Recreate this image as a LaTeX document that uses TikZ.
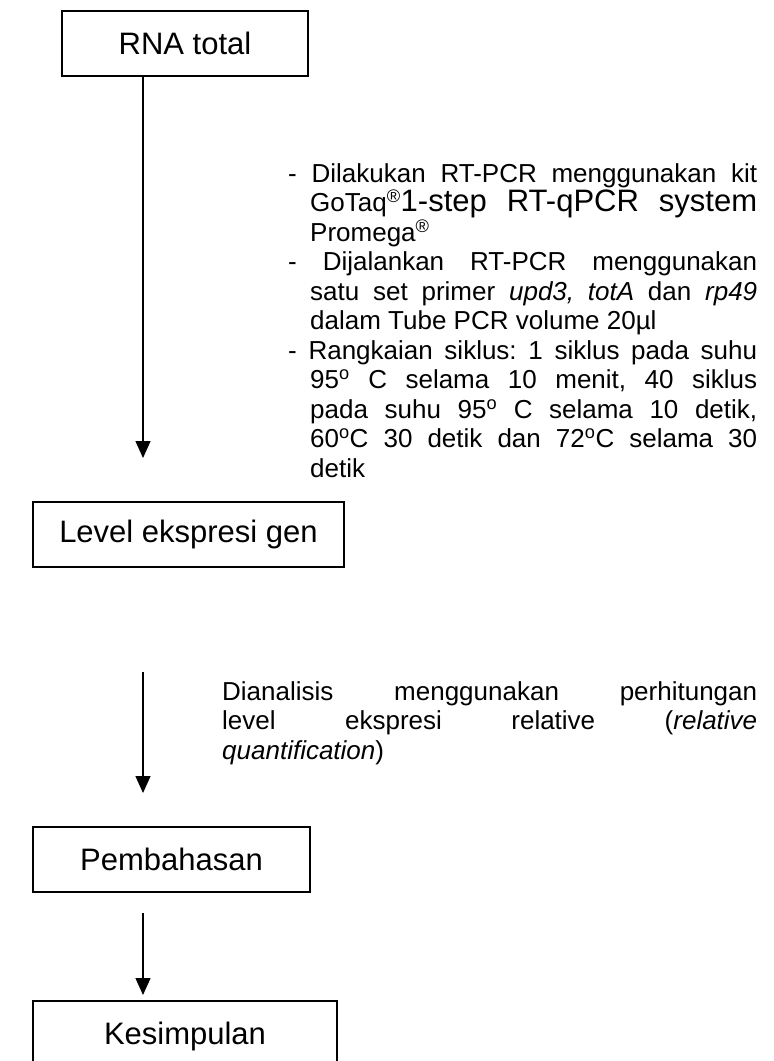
\documentclass[tikz,border=0pt]{standalone}
\usepackage{fontspec}
\setmainfont{Liberation Sans}
\usetikzlibrary{arrows.meta,positioning}
\tikzset{
	kotak/.style={draw,line width=1.6pt,inner sep=0pt,minimum height=65pt,font=\fontsize{31}{36}\selectfont},
	panah/.style={line width=1.3pt,-{Triangle[width=15pt,length=17pt]}},
	keterangan/.style={anchor=north west,inner sep=0pt,align=justify,font=\fontsize{26}{29.5}\selectfont}
}

\begin{document}
\frenchspacing
\begin{tikzpicture}[x=1pt,y=-1pt]
			\useasboundingbox (0,0) rectangle (774,1061);
			\node[kotak,minimum width=246pt] (rna) at (185,43.5) {RNA total};
			\node[kotak,minimum width=311pt] (level) at (188.5,534.5) {Level ekspresi gen};
			\node[kotak,minimum width=277pt] (bahas) at (171.5,859.5) {Pembahasan};
			\node[kotak,minimum width=304pt,minimum height=70pt] (simpul) at (185,1036) {Kesimpulan};
			\coordinate (ujung1) at (143,458);
			\coordinate (awal2) at (143,672);
			\coordinate (ujung2) at (143,793);
			\coordinate (awal3) at (143,913);
			\coordinate (ujung3) at (143,995);
			\draw[panah] (rna.south -| ujung1) -- (ujung1);
			\draw[panah] (awal2) -- (ujung2);
			\draw[panah] (awal3) -- (ujung3);
			\node[keterangan,text width=469pt] (rtpcr) at (288,163) {\parindent=0pt
				\hangindent=22pt\hangafter=1
				-\ Dilakukan RT-PCR menggunakan kit\linebreak
				GoTaq\textsuperscript{\textregistered}{\fontsize{31}{34}\selectfont 1-step RT-qPCR system}\linebreak
				Promega\textsuperscript{\textregistered}\par
				\hangindent=22pt\hangafter=1
				-\ Dijalankan RT-PCR menggunakan\linebreak
				satu set primer \textit{upd3, totA} dan \textit{rp49}\linebreak
				dalam Tube PCR volume 20µl\par
				\hangindent=22pt\hangafter=1
				-\ Rangkaian siklus: 1 siklus pada suhu\linebreak
				95\textsuperscript{o} C selama 10 menit, 40 siklus\linebreak
				pada suhu 95\textsuperscript{o} C selama 10 detik,\linebreak
				60\textsuperscript{o}C 30 detik dan 72\textsuperscript{o}C selama 30\linebreak
				detik\par};
			\node[keterangan,text width=535pt] (analisis) at (222,681) {\parindent=0pt
				Dianalisis menggunakan perhitungan\linebreak
				level ekspresi relative (\textit{relative}\linebreak
				\textit{quantification})\par};
		\end{tikzpicture}
\end{document}
